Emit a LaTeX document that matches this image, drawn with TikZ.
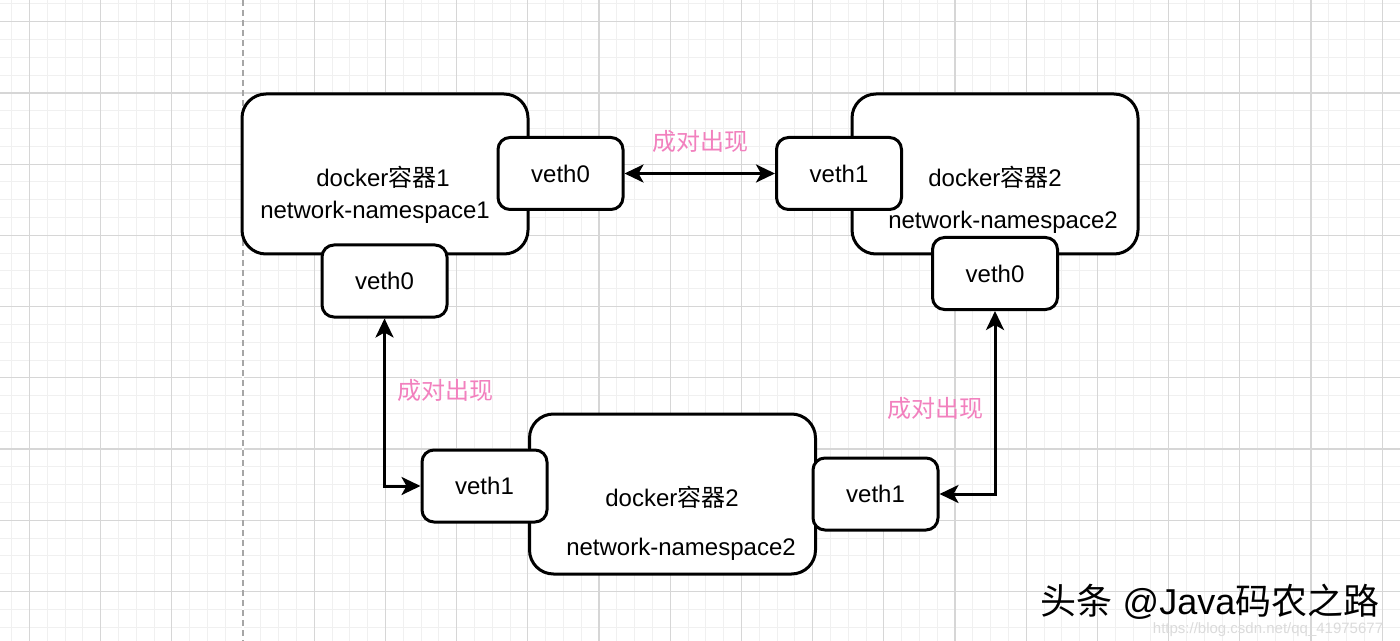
\documentclass[tikz,border=0pt]{standalone}
\usepackage{fontspec}
\setmainfont{Liberation Sans}
\newfontfamily\zh{Noto Sans CJK SC}
\usepackage{tikz}
\usetikzlibrary{arrows.meta,positioning}

\definecolor{pairpink}{RGB}{242,128,190}
\tikzset{
  ns/.style={draw, line width=1.5pt, rounded corners=12pt, fill=white,
    minimum width=143pt, minimum height=80pt, inner sep=0pt},
  veth/.style={draw, line width=1.5pt, rounded corners=6pt, fill=white,
    minimum width=62.5pt, minimum height=36pt, inner sep=0pt, font=\fontsize{12}{14}\selectfont},
  lbl/.style={font=\fontsize{12}{14}\selectfont, inner sep=0pt},
  pair/.style={text=pairpink, font=\fontsize{12}{14}\selectfont\zh, inner sep=0pt},
  link/.style={line width=1.5pt, {Stealth[length=9.5pt,width=9pt,inset=2.5pt]}-{Stealth[length=9.5pt,width=9pt,inset=2.5pt]}}
}

\begin{document}
\begin{tikzpicture}[x=0.5pt, y=-0.5pt]
  \useasboundingbox (0,0) rectangle (1400,641);
  \fill[white] (0,0) rectangle (1400,641);

  % grid
  \foreach \i in {-13,...,65} \draw[black!6, line width=0.5pt] ({243+\i*17.8},0) -- ++(0,641);
  \foreach \j in {-5,...,31} \draw[black!6, line width=0.5pt] (0,{93+\j*17.8}) -- ++(1400,0);
  \foreach \i in {-3,...,16} \draw[black!16, line width=0.6pt] ({243+\i*71.2},0) -- ++(0,641);
  \foreach \j in {-1,...,7} \draw[black!16, line width=0.6pt] (0,{93+\j*71.2}) -- ++(1400,0);
  \draw[white, line width=1pt] (243,0) -- (243,641);
  \draw[black!35, line width=0.6pt, dash pattern=on 3pt off 2pt] (243,0) -- (243,641);

  % namespaces
  \node[ns] (box1) at (385,174) {};
  \node[ns] (box2) at (995,174) {};
  \node[ns] (box3) at (672.5,494) {};

  \node[lbl] (name1) at (383,177) {docker{\zh 容器}1};
  \node[lbl] (net1) at (375,212) {network-namespace1};
  \node[lbl] (name2) at (995,177) {docker{\zh 容器}2};
  \node[lbl] (net2) at (1003,222) {network-namespace2};
  \node[lbl] (name3) at (672,497) {docker{\zh 容器}2};
  \node[lbl] (net3) at (681,549) {network-namespace2};

  % veth ends
  \node[veth] (v0a) at (560.5,173.5) {veth0};
  \node[veth] (v0b) at (384.5,281) {veth0};
  \node[veth] (v1a) at (839,173.5) {veth1};
  \node[veth] (v0c) at (995,273.5) {veth0};
  \node[veth] (v1b) at (484.5,486) {veth1};
  \node[veth] (v1c) at (875.5,494) {veth1};

  % pairs
  \draw[link] (v0a.east) -- (v1a.west);
  \draw[link] (v0b.south) |- (v1b.west);
  \draw[link] (v0c.south) |- (v1c.east);

  \node[pair] (p1) at (700,141) {成对出现};
  \node[pair] (p2) at (445,390) {成对出现};
  \node[pair] (p3) at (935,408) {成对出现};

  % watermark
  \node[font=\fontsize{18}{20}\selectfont, inner sep=0pt] (wm) at (1210,602) {{\zh 头条} @Java{\zh 码农之路}};
  \node[text=black!14, font=\fontsize{7.5}{9}\selectfont, inner sep=0pt] (url) at (1268,630) {https://blog.csdn.net/qq\_41975677};
\end{tikzpicture}
\end{document}
